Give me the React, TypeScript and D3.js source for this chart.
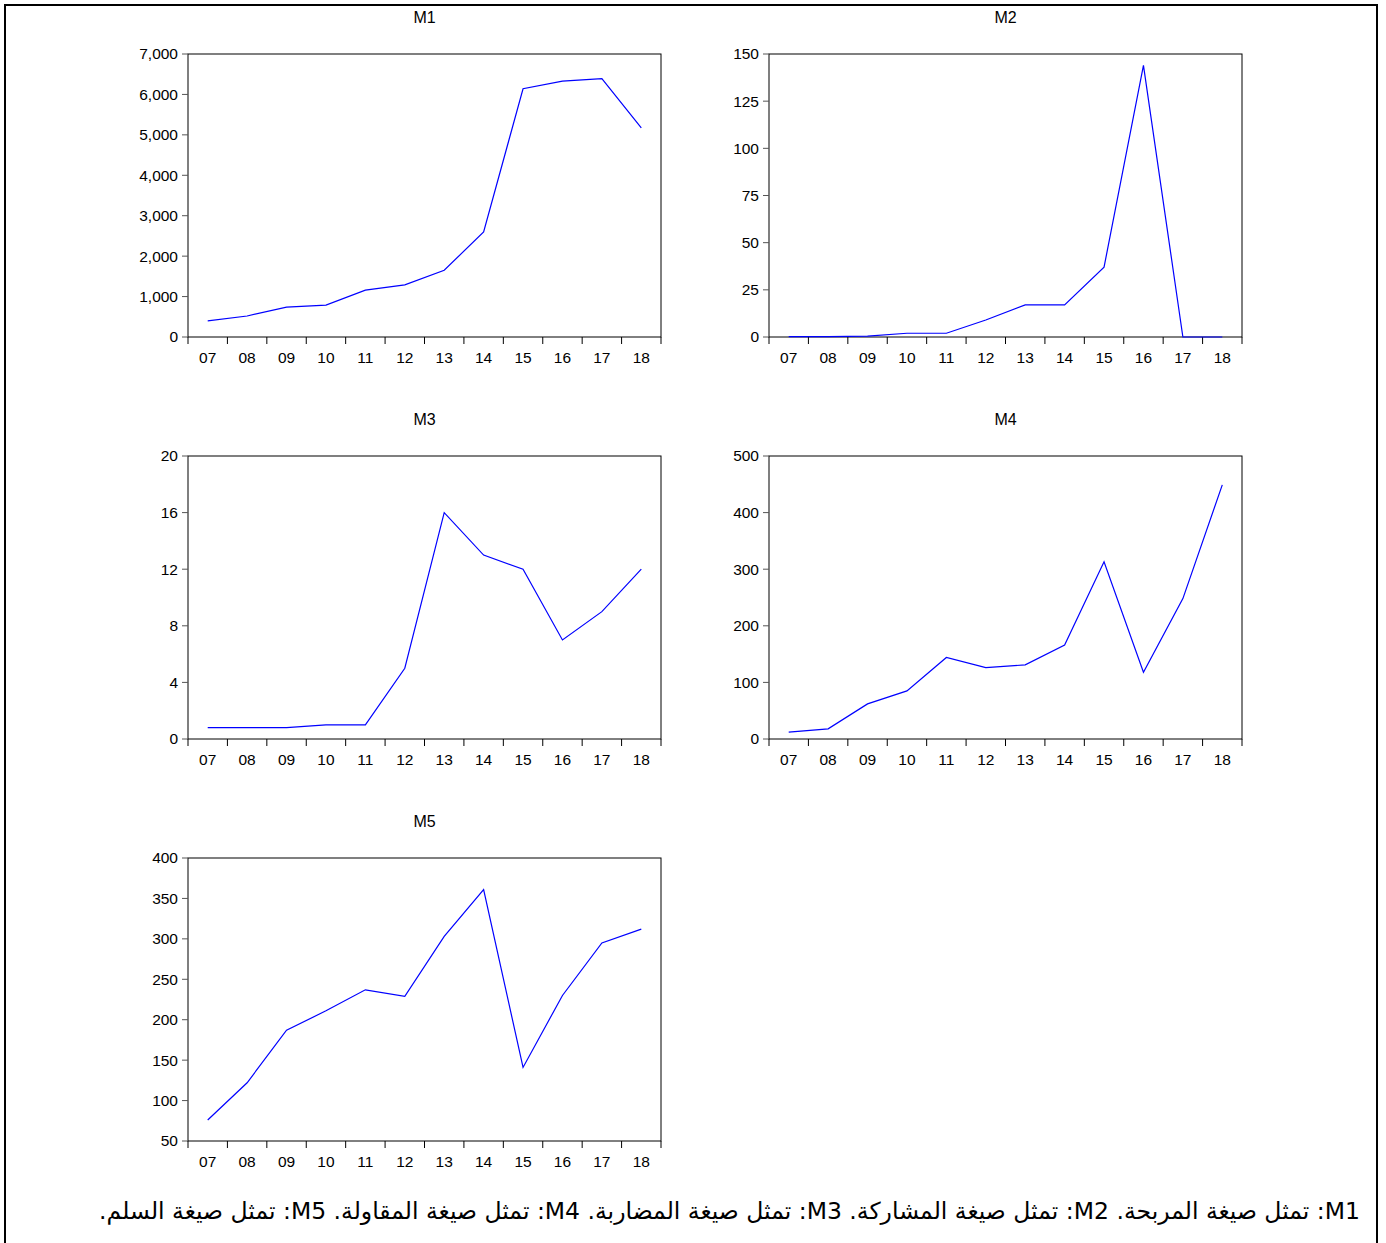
import React from "react";
import * as d3 from "d3";

const years = ["07", "08", "09", "10", "11", "12", "13", "14", "15", "16", "17", "18"];

const m1 = [400, 520, 740, 790, 1160, 1290, 1650, 2600, 6140, 6330, 6390, 5170];
const m2 = [0.2, 0.2, 0.5, 2, 2, 9, 17, 17, 37, 144, 0, 0];
const m3 = [0.8, 0.8, 0.8, 1, 1, 5, 16, 13, 12, 7, 9, 12];
const m4 = [12, 18, 62, 85, 144, 126, 131, 166, 313, 118, 248, 449];
const m5 = [76, 122, 187, 211, 237, 229, 303, 361, 141, 230, 295, 312];

const titles = ["M1", "M2", "M3", "M4", "M5"];
const series = [m1, m2, m3, m4, m5];
const yDomains: [number, number][] = [[0, 7000], [0, 150], [0, 20], [0, 500], [50, 400]];
const yTicks = [
  [0, 1000, 2000, 3000, 4000, 5000, 6000, 7000],
  [0, 25, 50, 75, 100, 125, 150],
  [0, 4, 8, 12, 16, 20],
  [0, 100, 200, 300, 400, 500],
  [50, 100, 150, 200, 250, 300, 350, 400],
];
const note =
  "M1: تمثل صيغة المربحة. M2: تمثل صيغة المشاركة. M3: تمثل صيغة المضاربة. M4: تمثل صيغة المقاولة. M5: تمثل صيغة السلم.";

const W = 1386;
const H = 1243;
const PW = 473;
const PH = 283;
const origins: [number, number][] = [
  [188, 54],
  [769, 54],
  [188, 456],
  [769, 456],
  [188, 858],
];

const font = "'Liberation Sans', Arial, sans-serif";

function Panel({ idx }: { idx: number }) {
  const [ox, oy] = origins[idx];
  const x = d3.scaleBand<string>().domain(years).range([ox, ox + PW]);
  const y = d3.scaleLinear().domain(yDomains[idx]).range([oy + PH, oy]);
  const fmt = idx === 0 ? d3.format(",") : d3.format("d");
  const line = d3
    .line<number>()
    .x((_, i) => (x(years[i]) as number) + x.bandwidth() / 2)
    .y((v) => y(v));
  const bounds = years.map((yr) => x(yr) as number).concat([ox + PW]);
  return (
    <g>
      <text x={ox + PW / 2} y={oy - 31} textAnchor="middle" fontFamily={font} fontSize={16} fill="#000">
        {titles[idx]}
      </text>
      <rect x={ox} y={oy} width={PW} height={PH} fill="none" stroke="#000" strokeWidth={1} />
      {yTicks[idx].map((t) => (
        <g key={t}>
          <line x1={ox - 6} x2={ox} y1={y(t)} y2={y(t)} stroke="#555" strokeWidth={1} />
          <text x={ox - 10} y={y(t)} dy="0.35em" textAnchor="end" fontFamily={font} fontSize={15.5} fill="#000">
            {fmt(t)}
          </text>
        </g>
      ))}
      {bounds.map((b, i) => (
        <line key={i} x1={b} x2={b} y1={oy + PH} y2={oy + PH + 7} stroke="#000" strokeWidth={1} />
      ))}
      {years.map((yr) => (
        <text
          key={yr}
          x={(x(yr) as number) + x.bandwidth() / 2}
          y={oy + PH + 26}
          textAnchor="middle"
          fontFamily={font}
          fontSize={15.5}
          fill="#000"
        >
          {yr}
        </text>
      ))}
      <path d={line(series[idx]) as string} fill="none" stroke="#0000ff" strokeWidth={1.2} />
    </g>
  );
}

export default function App() {
  return (
    <svg
      width={W}
      height={H}
      style={{ position: "absolute", left: 0, top: 0, background: "#fff" }}
      xmlns="http://www.w3.org/2000/svg"
    >
      <rect x={0} y={0} width={W} height={H} fill="#fff" />
      <rect x={5} y={5} width={1372} height={H + 10} fill="none" stroke="#000" strokeWidth={2} />
      {titles.map((_, i) => (
        <Panel key={i} idx={i} />
      ))}
      <text
        x={1360}
        y={1219}
        direction="rtl"
        textAnchor="start"
        fontFamily="'DejaVu Sans', 'Noto Sans', sans-serif"
        fontSize={23.5}
        fill="#000"
      >
        {note}
      </text>
    </svg>
  );
}
